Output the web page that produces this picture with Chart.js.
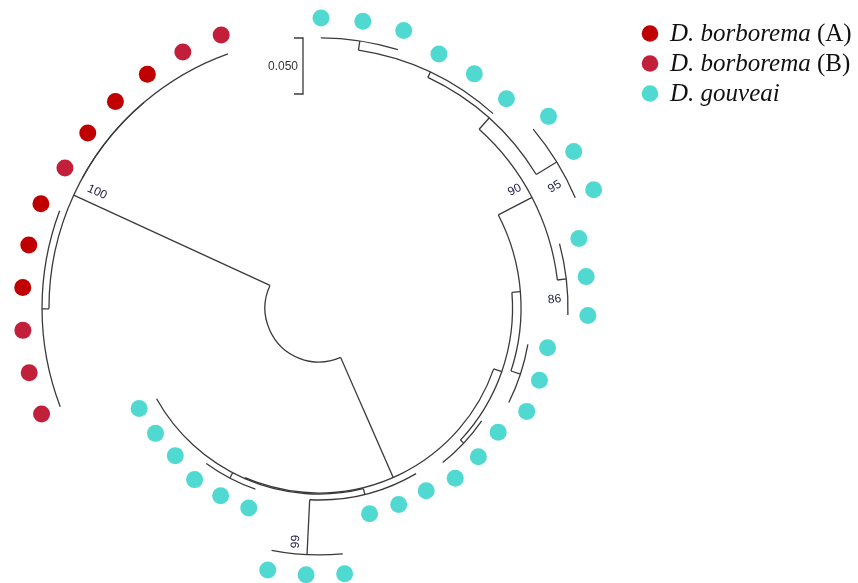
<!DOCTYPE html>
<html>
<head>
<meta charset="utf-8">
<script src="https://cdn.jsdelivr.net/npm/chart.js@4.4.1/dist/chart.umd.min.js"></script>
<style>
  html, body { margin: 0; padding: 0; background: #fff; }
  canvas { display: block; }
</style>
</head>
<body>
<canvas id="tree" width="858" height="583"></canvas>
<script>
// tips, clockwise from 12 o'clock
const tipGroup = [
  'G', 'G', 'G', 'G', 'G', 'G', 'G', 'G', 'G', 'G', 'G', 'G', 'G', 'G', 'G',
  'G', 'G', 'G', 'G', 'G', 'G', 'G', 'G', 'G', 'G', 'G', 'G', 'G', 'G', 'G',
  'B', 'B', 'B', 'A', 'A', 'A', 'B', 'A', 'A', 'A', 'B', 'B'
]
const tipParent = [
  'i1', 'i1', 'i1', 'i2', 'i2', 'i2', 'n95', 'n95', 'n95', 'n86', 'n86', 'n86',
  't', 't', 't', 'u', 'u', 'u', 'm', 'm', 'm', 'n99', 'n99', 'n99', 'p', 'p', 'p',
  'w', 'w', 'w', 'x', 'x', 'x', 'x', 'x', 'x', 'y', 'y', 'y', 'y', 'y', 'y'
]

// internal nodes (depth = distance from centre, substitutions/site)
const nodeName = ['root', 'n100', 'x', 'y', 'z', 'f', 'g', 'n90', 'k', 'i2', 'i1', 'n95', 'n86', 't', 'u', 'w', 'm', 'n99', 'p']
const nodeParent = [null, 'root', 'n100', 'n100', 'root', 'z', 'f', 'g', 'n90', 'k', 'i2', 'k', 'n90', 'g', 'f', 'z', 'w', 'm', 'w']
const nodeDepth = [0.0482, 0.2411, 0.2473, 0.2411, 0.1652, 0.1728, 0.1804, 0.2143, 0.2277, 0.2330, 0.2411, 0.2491, 0.2223, 0.1893, 0.1768, 0.1661, 0.1714, 0.2205, 0.1714]
const nodeSupport = [null, 100, null, null, null, null, null, 90, null, null, null, 95, 86, null, null, null, null, 99, null]

const groupKeys = ['A', 'B', 'G']
const groupSpecies = ['D. borborema', 'D. borborema', 'D. gouveai']
const groupSuffix = [' (A)', ' (B)', '']
const groupColors = ['#c00000', '#c2203a', '#50d9d1']

const scaleBarValue = 0.05
const scaleBarLabel = '0.050'

// layout
const W = 858, H = 583
const CX = 319, CY = 308
const PX = 1120 // pixels per unit
const TIP_START = 0.4, TIP_STEP = 8.29 // degrees
const DOT_GAP = 20, DOT_R = 8.5
const LINE = '#3a3a3a'
const labelOffset = { // [radial px, tangential px]
  n100: [-20, 12.5], n90: [-12, -14.5], n95: [-14.5, 20], n86: [-14, 19], n99: [-12.5, 12]
}

const rad = (d) => d * Math.PI / 180
const tipAngle = tipGroup.map((g, i) => TIP_START + i * TIP_STEP)

const depthOf = {}
const kids = {}
nodeName.forEach((n, i) => { depthOf[n] = nodeDepth[i]; kids[n] = [] })
nodeParent.forEach((p, i) => { if (p) kids[p].push({ node: nodeName[i] }) })
tipParent.forEach((p, i) => kids[p].push({ tip: i }))

const angleOf = {}
const spanOf = {}
function nodeAngle (n) {
  if (angleOf[n] !== undefined) return angleOf[n]
  const a = kids[n].map((c) => c.node ? nodeAngle(c.node) : tipAngle[c.tip])
  spanOf[n] = [Math.min(...a), Math.max(...a)]
  angleOf[n] = (spanOf[n][0] + spanOf[n][1]) / 2
  return angleOf[n]
}
nodeAngle('root')

const tipDepth = tipParent.map((p) => depthOf[p])

function polar (r, deg) {
  return { x: r * Math.sin(rad(deg)), y: r * Math.cos(rad(deg)) }
}

const datasets = groupKeys.map((g, k) => ({
  label: groupSpecies[k] + groupSuffix[k],
  data: tipGroup.map((t, i) => t === g ? polar(tipDepth[i] + DOT_GAP / PX, tipAngle[i]) : null).filter((d) => d),
  backgroundColor: groupColors[k],
  borderWidth: 0,
  pointRadius: DOT_R,
  pointHoverRadius: DOT_R,
  pointStyle: 'circle',
  showLine: false,
  clip: false
}))

const treePlugin = {
  id: 'tree',
  beforeDatasetsDraw (chart) {
    const ctx = chart.ctx
    const xs = chart.scales.x, ys = chart.scales.y
    const pix = (r, deg) => {
      const p = polar(r, deg)
      return { x: xs.getPixelForValue(p.x), y: ys.getPixelForValue(p.y) }
    }
    const c = pix(0, 0)
    const len = (r) => xs.getPixelForValue(r) - xs.getPixelForValue(0)
    ctx.save()
    ctx.strokeStyle = LINE
    ctx.lineWidth = 1.3
    ctx.lineCap = 'butt'
    nodeName.forEach((n, i) => {
      const s = spanOf[n]
      ctx.beginPath()
      ctx.arc(c.x, c.y, len(nodeDepth[i]), rad(s[0] - 90), rad(s[1] - 90))
      ctx.stroke()
      const p = nodeParent[i]
      if (p) {
        const a = pix(depthOf[p], angleOf[n])
        const b = pix(nodeDepth[i], angleOf[n])
        ctx.beginPath()
        ctx.moveTo(a.x, a.y)
        ctx.lineTo(b.x, b.y)
        ctx.stroke()
      }
    })

    // bootstrap values
    ctx.fillStyle = '#22224a'
    ctx.font = '12px "Liberation Sans", Arial, sans-serif'
    ctx.textAlign = 'center'
    ctx.textBaseline = 'middle'
    nodeName.forEach((n, i) => {
      if (nodeSupport[i] === null) return
      const th = angleOf[n]
      const o = labelOffset[n]
      const R = len(nodeDepth[i]) + o[0]
      const base = { x: c.x + R * Math.sin(rad(th)), y: c.y - R * Math.cos(rad(th)) }
      const pos = { x: base.x + o[1] * Math.cos(rad(th)), y: base.y + o[1] * Math.sin(rad(th)) }
      const rot = th < 180 ? th - 90 : th - 270
      ctx.save()
      ctx.translate(pos.x, pos.y)
      ctx.rotate(rad(rot))
      ctx.fillText(String(nodeSupport[i]), 0, 0)
      ctx.restore()
    })

    // scale bar
    const bx = 303, top = ys.getPixelForValue((CY - 38) / PX)
    const bot = ys.getPixelForValue((CY - 38) / PX - scaleBarValue)
    ctx.beginPath()
    ctx.moveTo(bx - 9, top); ctx.lineTo(bx, top); ctx.lineTo(bx, bot); ctx.lineTo(bx - 9, bot)
    ctx.stroke()
    ctx.fillStyle = '#333'
    ctx.textAlign = 'right'
    ctx.fillText(scaleBarLabel, bx - 5, (top + bot) / 2 + 1)
    ctx.restore()
  }
}

const legendPlugin = {
  id: 'speciesLegend',
  afterDraw (chart) {
    const ctx = chart.ctx
    ctx.save()
    ctx.textBaseline = 'middle'
    groupKeys.forEach((g, k) => {
      const y = 33.5 + k * 30
      ctx.fillStyle = groupColors[k]
      ctx.beginPath()
      ctx.arc(650, y, 8.3, 0, Math.PI * 2)
      ctx.fill()
      ctx.fillStyle = '#111'
      ctx.font = 'italic 25px "Liberation Serif", "Times New Roman", serif'
      ctx.fillText(groupSpecies[k], 670, y + 1)
      const w = ctx.measureText(groupSpecies[k]).width
      ctx.font = '25px "Liberation Serif", "Times New Roman", serif'
      ctx.fillText(groupSuffix[k], 670 + w, y + 1)
    })
    ctx.restore()
  }
}

new Chart(document.getElementById('tree').getContext('2d'), {
  type: 'scatter',
  data: { datasets },
  options: {
    responsive: false,
    animation: false,
    events: [],
    layout: { padding: 0, autoPadding: false },
    plugins: { legend: { display: false }, tooltip: { enabled: false } },
    scales: {
      x: { type: 'linear', display: false, min: -CX / PX, max: (W - CX) / PX },
      y: { type: 'linear', display: false, min: -(H - CY) / PX, max: CY / PX }
    }
  },
  plugins: [treePlugin, legendPlugin]
})
</script>
</body>
</html>
